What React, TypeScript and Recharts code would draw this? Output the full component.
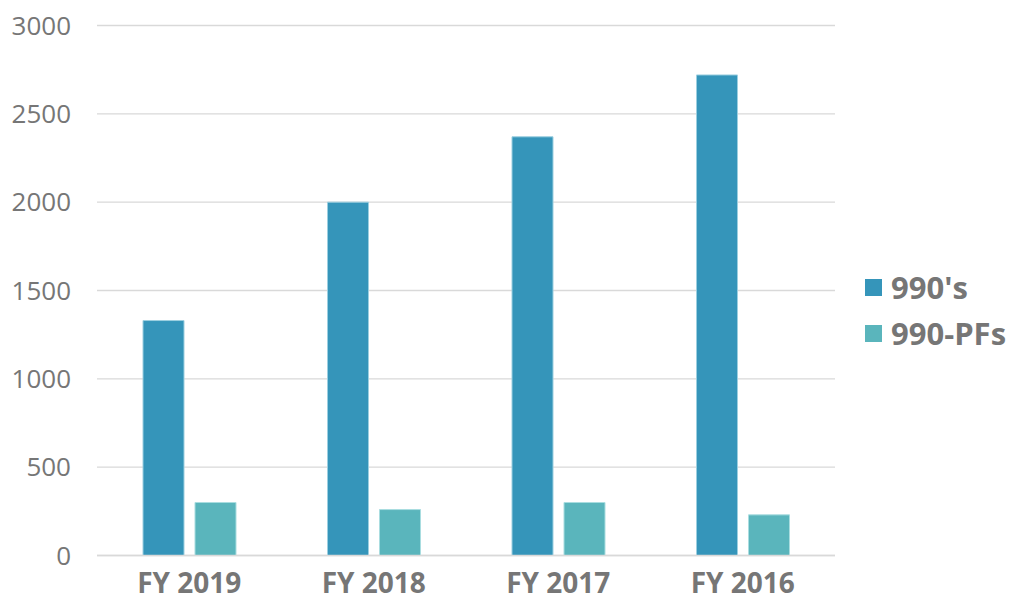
import React from 'react';
import { BarChart, Bar, XAxis, YAxis, CartesianGrid } from 'recharts';

const years = ['FY 2019', 'FY 2018', 'FY 2017', 'FY 2016'];
const filings990 = [1330, 2000, 2370, 2720];
const filings990PF = [300, 260, 300, 230];
const yTicks = [0, 500, 1000, 1500, 2000, 2500, 3000];

const COLOR_990 = '#3595ba';
const COLOR_PF = '#5ab5bc';
const TEXT = '#767676';
const FONT = '"Open Sans", sans-serif';

const series = [
  { key: 'f990', name: "990's", color: COLOR_990, stroke: '#9ccfe0' },
  { key: 'f990pf', name: '990-PFs', color: COLOR_PF, stroke: '#a9dde0' },
];

const data = years.map((year, i) => ({
  year,
  f990: filings990[i],
  f990pf: filings990PF[i],
}));

// legend drawn beside the chart so it doesn't eat into the plot area
const LegendBox = () => (
  <div style={{ position: 'absolute', left: 865, top: 264, fontFamily: FONT }}>
    {series.map((s) => (
      <div key={s.key} style={{ display: 'flex', alignItems: 'center', height: 46 }}>
        <span style={{ width: 17, height: 17, background: s.color, marginRight: 9 }} />
        <span style={{ fontSize: 31, fontWeight: 700, color: TEXT }}>{s.name}</span>
      </div>
    ))}
  </div>
);

export default function App() {
  return (
    <div style={{ position: 'absolute', left: 0, top: 0, width: 1012, height: 605, background: '#fff' }}>
      <BarChart
        width={1012}
        height={605}
        data={data}
        margin={{ top: 25.5, right: 177, bottom: 0, left: 0 }}
        barSize={41}
        barGap={11}
      >
        <CartesianGrid vertical={false} stroke="#d9d9d9" strokeWidth={1.3} />
        <XAxis
          dataKey="year"
          height={49.5}
          axisLine={{ stroke: '#d9d9d9', strokeWidth: 1.3 }}
          tickLine={false}
          tickSize={0}
          tickMargin={18}
          tick={{ fill: TEXT, fontSize: 28, fontWeight: 700, fontFamily: FONT }}
        />
        <YAxis
          width={97}
          domain={[0, 3000]}
          ticks={yTicks}
          axisLine={false}
          tickLine={false}
          tickSize={0}
          tickMargin={26}
          tick={{ fill: TEXT, fontSize: 26, fontFamily: FONT }}
        />
        {series.map((s) => (
          <Bar
            key={s.key}
            dataKey={s.key}
            name={s.name}
            fill={s.color}
            stroke={s.stroke}
            strokeWidth={1}
            isAnimationActive={false}
          />
        ))}
      </BarChart>
      <LegendBox />
    </div>
  );
}
